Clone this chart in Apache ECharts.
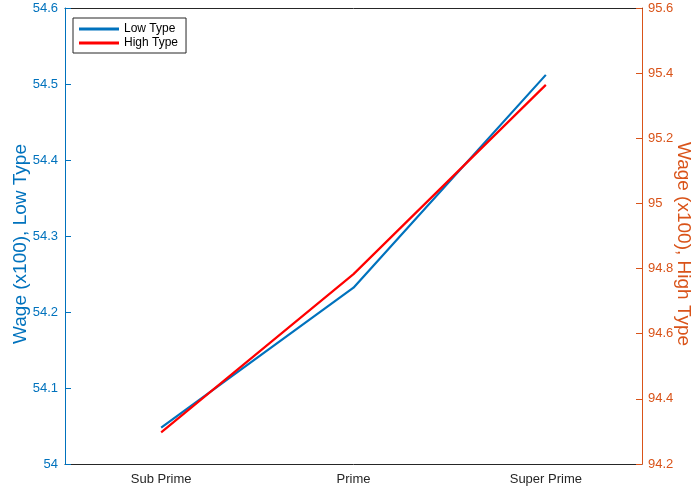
<!DOCTYPE html>
<html>
<head>
<meta charset="utf-8">
<script src="https://cdn.jsdelivr.net/npm/echarts@6/dist/echarts.min.js"></script>
<style>html,body{margin:0;padding:0;background:#fff;}#c{width:694px;height:493px;}</style>
</head>
<body>
<div id="c"></div>
<script>
const categories = ['Sub Prime', 'Prime', 'Super Prime'];
const lowType = [54.048, 54.232, 54.512];
const highType = [94.297, 94.783, 95.364];
const leftTicks = [54, 54.6, 0.1];
const rightTicks = [94.2, 95.6, 0.2];

const BLUE = '#0072BD', ORANGE = '#D95319', RED = '#FF0000', GRAY = '#262626';
const FONT = 'Liberation Sans, Arial, Helvetica, sans-serif';

const chart = echarts.init(document.getElementById('c'));
chart.setOption({
  animation: false,
  backgroundColor: '#fff',
  grid: { left: 65, right: 52, top: 8, bottom: 29, containLabel: false, outerBoundsMode: 'none' },
  legend: {
    orient: 'vertical', left: 73, top: 18,
    backgroundColor: '#fff', borderColor: GRAY, borderWidth: 1,
    padding: [5, 8, 4, 6], itemGap: 2,
    itemWidth: 40, itemHeight: 3, icon: 'rect',
    textStyle: { fontFamily: FONT, fontSize: 12, color: '#000' },
    data: ['Low Type', 'High Type']
  },
  xAxis: [{
    type: 'category', data: categories, position: 'bottom', boundaryGap: true,
    axisLine: { lineStyle: { color: GRAY, width: 1 } },
    axisTick: { inside: true, alignWithLabel: true, length: 6, lineStyle: { color: GRAY } },
    axisLabel: { fontFamily: FONT, fontSize: 13, color: GRAY, margin: 9 },
    splitLine: { show: false }
  }, {
    type: 'category', data: categories, position: 'top', boundaryGap: true,
    axisLine: { lineStyle: { color: GRAY, width: 1 } },
    axisTick: { inside: true, alignWithLabel: true, length: 6, lineStyle: { color: GRAY } },
    axisLabel: { show: false },
    splitLine: { show: false }
  }],
  yAxis: [{
    type: 'value', position: 'left', min: leftTicks[0], max: leftTicks[1], interval: leftTicks[2],
    name: 'Wage (x100), Low Type', nameLocation: 'middle', nameGap: 35, nameMoveOverlap: false,
    nameTextStyle: { fontFamily: FONT, fontSize: 19, color: BLUE, padding: [0, 16, 0, 0] },
    axisLine: { show: true, lineStyle: { color: BLUE, width: 1 } },
    axisTick: { show: true, inside: true, length: 6, lineStyle: { color: BLUE } },
    axisLabel: { fontFamily: FONT, fontSize: 13, color: BLUE, margin: 7,
      formatter: v => String(Math.round(v * 10) / 10) },
    splitLine: { show: false }
  }, {
    type: 'value', position: 'right', min: rightTicks[0], max: rightTicks[1], interval: rightTicks[2],
    name: 'Wage (x100), High Type', nameLocation: 'middle', nameGap: 32, nameRotate: -90, nameMoveOverlap: false,
    nameTextStyle: { fontFamily: FONT, fontSize: 19, color: ORANGE, padding: [0, 0, 0, 16] },
    axisLine: { show: true, lineStyle: { color: ORANGE, width: 1 } },
    axisTick: { show: true, inside: true, length: 6, lineStyle: { color: ORANGE } },
    axisLabel: { fontFamily: FONT, fontSize: 13, color: ORANGE, margin: 6,
      formatter: v => String(Math.round(v * 10) / 10) },
    splitLine: { show: false }
  }],
  series: [{
    name: 'Low Type', type: 'line', xAxisIndex: 0, yAxisIndex: 0, data: lowType,
    showSymbol: false, symbol: 'none', color: BLUE, lineStyle: { color: BLUE, width: 2.2 }
  }, {
    name: 'High Type', type: 'line', xAxisIndex: 0, yAxisIndex: 1, data: highType,
    showSymbol: false, symbol: 'none', color: RED, lineStyle: { color: RED, width: 2.2 }
  }]
});
</script>
</body>
</html>
